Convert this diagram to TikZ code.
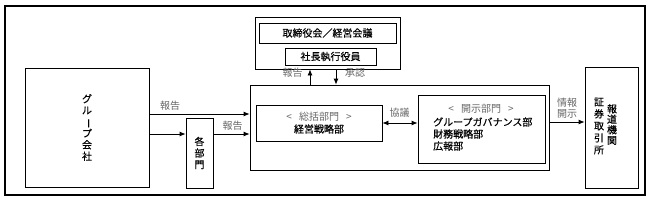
\documentclass[tikz,border=0pt]{standalone}
\usepackage{fontspec}
\setmainfont{Noto Sans CJK JP}[FakeBold=0.4]
\newfontfamily\usujp{Noto Sans CJK JP}
\usetikzlibrary{arrows.meta}
\newcommand{\tatebou}{\rotatebox[origin=c]{-90}{ー}}
\begin{document}
\begin{tikzpicture}[x=1pt,y=-1pt,
  box/.style={draw=black,line width=0.8pt,inner sep=0pt},
  lbl/.style={text=black!60,inner sep=0pt,font=\usujp\fontsize{10}{11.5}\selectfont},
  arr/.style={line width=0.8pt,-{Latex[length=6pt,width=5pt]}},
  every node/.append style={font=\fontsize{10}{11.5}\selectfont}]
\useasboundingbox (0,0) rectangle (648,201);
\draw[line width=1.2pt] (5,6) rectangle (645,195);
% boxes
\node[box,minimum width=124pt,minimum height=119pt,align=center] (group) at (87,127.5) {グ\\ル\\\tatebou\\プ\\会\\社};
\node[box,minimum width=27pt,minimum height=70pt,align=center] (kakubu) at (199.5,153) {各\\部\\門};
\node[box,minimum width=145pt,minimum height=52pt] (top) at (327.5,43) {};
\node[box,minimum width=137pt,minimum height=20pt] (board) at (327.5,33) {取締役会／経営会議};
\node[box,minimum width=91pt,minimum height=17pt] (pres) at (330.5,56.5) {社長執行役員};
\node[box,minimum width=299pt,minimum height=85pt] (main) at (399.5,127.5) {};
\node[box,minimum width=126pt,minimum height=36pt,align=center,font=\fontsize{10}{12}\selectfont] (soukatsu) at (319,123) {{\usujp\color{black!60}<\hspace{7pt}総括部門\hspace{7pt}>}\\経営戦略部};
\node[box,minimum width=127pt,minimum height=68pt] (kaiji) at (481.5,129) {};
\node[lbl] (kaijihead) at (481,109) {<\hspace{7pt}開示部門\hspace{7pt}>};
\node[anchor=west,align=left,inner sep=0pt,font=\fontsize{10}{12}\selectfont] (kaijitext) at (433,134) {グループガバナンス部\\財務戦略部\\広報部};
\node[box,minimum width=53pt,minimum height=121pt] (media) at (611.5,127.5) {};
\node[align=center,inner sep=0pt,font=\fontsize{10}{10.5}\selectfont] (hodo) at (612,124.5) {報\\道\\機\\関};
\node[align=center,inner sep=0pt,font=\fontsize{10}{12}\selectfont] (shoken) at (599,126) {証\\券\\取\\引\\所};
% labels
\node[lbl] (rep1) at (170,106) {報告};
\node[lbl] (rep2) at (232.5,126) {報告};
\node[lbl] (rep3) at (292.5,73) {報告};
\node[lbl] (appr) at (355,73) {承認};
\node[lbl] (kyogi) at (399.5,113) {協議};
\node[lbl,align=center,font=\usujp\fontsize{10}{11}\selectfont] (joho) at (567,108.5) {情報\\開示};
% connectors
\coordinate (g1) at ([yshift=13.5pt]group.east);
\coordinate (g2) at ([yshift=-6.5pt]group.east);
\coordinate (k1) at ([yshift=19pt]kakubu.east);
\coordinate (up) at ([xshift=-89.5pt]main.north);
\coordinate (dn) at ([xshift=8.5pt]top.south);
\coordinate (m1) at ([yshift=5.5pt]main.east);
\draw[arr] (g1) -- (g1 -| main.west);
\draw[arr] (g2) -- (g2 -| kakubu.west);
\draw[arr] (k1) -- (k1 -| main.west);
\draw[arr] (up) -- (up |- top.south);
\draw[arr] (dn) -- (dn |- main.north);
\draw[arr,{Latex[length=6pt,width=5pt]}-{Latex[length=6pt,width=5pt]}] (soukatsu.east) -- (soukatsu.east -| kaiji.west);
\draw[arr] (m1) -- (m1 -| media.west);
\end{tikzpicture}
\end{document}
